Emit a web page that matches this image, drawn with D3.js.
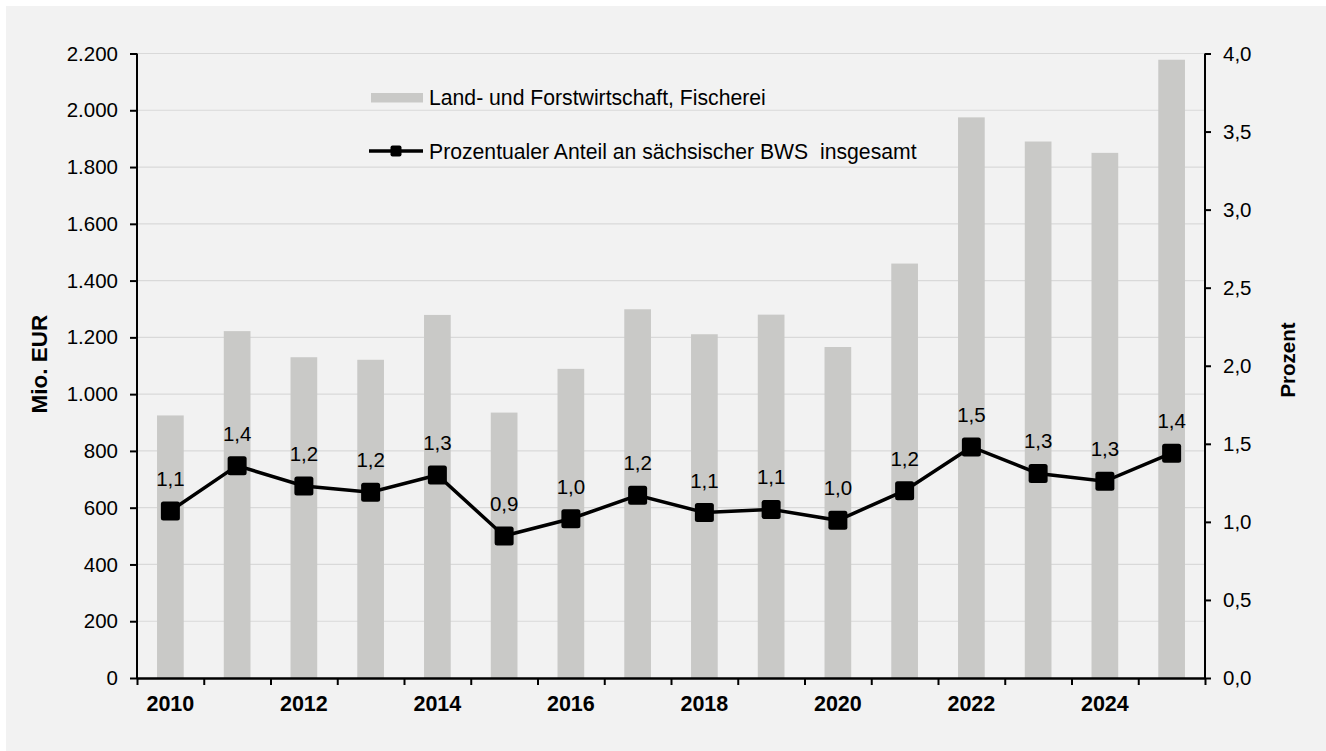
<!DOCTYPE html>
<html>
<head>
<meta charset="utf-8">
<script src="https://cdn.jsdelivr.net/npm/d3@7"></script>
<style>
  html, body { margin: 0; padding: 0; background: #ffffff; }
  svg { display: block; font-family: "Liberation Sans", Arial, sans-serif; }
</style>
</head>
<body>
<script>
// Bruttowertschöpfung Land- und Forstwirtschaft, Fischerei (Sachsen)
const years = [2010, 2011, 2012, 2013, 2014, 2015, 2016, 2017, 2018, 2019, 2020, 2021, 2022, 2023, 2024, 2025];
const bwsMioEur = [925, 1222, 1130, 1121, 1279, 935, 1089, 1299, 1211, 1280, 1166, 1460, 1975, 1890, 1850, 2178];
const anteilProzent = [1.07, 1.36, 1.23, 1.19, 1.30, 0.91, 1.02, 1.17, 1.06, 1.08, 1.01, 1.20, 1.48, 1.31, 1.26, 1.44];
const leftTicks = [0, 200, 400, 600, 800, 1000, 1200, 1400, 1600, 1800, 2000, 2200];
const rightTicks = [0, 0.5, 1, 1.5, 2, 2.5, 3, 3.5, 4];
const barLabel = "Land- und Forstwirtschaft, Fischerei";
const lineLabel = "Prozentualer Anteil an sächsischer BWS  insgesamt";

const de = d3.formatLocale({ decimal: ",", thousands: ".", grouping: [3], currency: ["", " €"] });
const fmtInt = de.format(",.0f");
const fmt1 = de.format(".1f");

function main() {
  const width = 1326;
  const height = 751;
  const marginTop = 53.5;
  const marginBottom = 73;
  const marginLeft = 137;
  const marginRight = 121;

  const data = years.map((y, i) => ({ year: y, bws: bwsMioEur[i], pct: anteilProzent[i] }));

  const x = d3.scaleBand()
    .domain(years)
    .range([marginLeft, width - marginRight])
    .paddingInner(0.6)
    .paddingOuter(0.3);

  // band boundaries for the x tick marks
  const xb = d3.scaleLinear()
    .domain([0, years.length])
    .range([marginLeft, width - marginRight]);

  const y = d3.scaleLinear()
    .domain([0, 2200])
    .range([height - marginBottom, marginTop]);

  const y2 = d3.scaleLinear()
    .domain([0, 4])
    .range([height - marginBottom, marginTop]);

  const svg = d3.create("svg")
    .attr("width", width)
    .attr("height", height);

  svg.append("rect")
    .attr("x", 6).attr("y", 6)
    .attr("width", width - 6).attr("height", height - 6)
    .attr("fill", "#f2f2f2");

  // gridlines
  svg.append("g")
    .attr("stroke", "#d9d9d9")
    .attr("stroke-width", 1.2)
    .selectAll("line")
    .data(leftTicks.filter(d => d > 0))
    .join("line")
    .attr("x1", marginLeft)
    .attr("x2", width - marginRight)
    .attr("y1", d => y(d))
    .attr("y2", d => y(d));

  // bars
  svg.append("g")
    .attr("fill", "#c9c9c7")
    .selectAll("rect")
    .data(data)
    .join("rect")
    .attr("x", d => x(d.year))
    .attr("y", d => y(d.bws))
    .attr("width", x.bandwidth())
    .attr("height", d => y(0) - y(d.bws));

  // left axis
  const gLeft = svg.append("g")
    .attr("transform", `translate(${marginLeft},0)`)
    .call(d3.axisLeft(y).tickValues(leftTicks).tickFormat(fmtInt).tickSize(7).tickPadding(12).tickSizeOuter(0));
  gLeft.select(".domain").attr("stroke-width", 2).attr("d", `M0,${y(0)}V${y(2200)}`);
  gLeft.selectAll(".tick line").attr("stroke-width", 2);
  gLeft.selectAll("text").attr("font-size", 20.5).attr("fill", "#000");

  // right axis
  const gRight = svg.append("g")
    .attr("transform", `translate(${width - marginRight},0)`)
    .call(d3.axisRight(y2).tickValues(rightTicks).tickFormat(fmt1).tickSize(6).tickPadding(12).tickSizeOuter(0));
  gRight.select(".domain").attr("stroke-width", 2).attr("d", `M0,${y2(0)}V${y2(4)}`);
  gRight.selectAll(".tick line").attr("stroke-width", 2);
  gRight.selectAll("text").attr("font-size", 20.5).attr("fill", "#000");

  // x axis: tick marks at band boundaries
  const gXb = svg.append("g")
    .attr("transform", `translate(0,${height - marginBottom})`)
    .call(d3.axisBottom(xb).ticks(years.length).tickFormat("").tickSize(7).tickSizeOuter(0));
  gXb.select(".domain").attr("stroke-width", 2.5);
  gXb.selectAll(".tick line").attr("stroke-width", 2);

  // x axis labels (every second year)
  const gX = svg.append("g")
    .attr("transform", `translate(0,${height - marginBottom})`)
    .call(d3.axisBottom(x).tickSize(0).tickFormat(d => d % 2 === 0 ? d : ""));
  gX.select(".domain").remove();
  gX.selectAll("text")
    .attr("y", 18)
    .attr("dy", "0.71em")
    .attr("font-size", 21.5)
    .attr("font-weight", "bold")
    .attr("fill", "#000");

  // line
  const cx = d => x(d.year) + x.bandwidth() / 2;
  const line = d3.line()
    .x(cx)
    .y(d => y2(d.pct));
  svg.append("path")
    .attr("fill", "none")
    .attr("stroke", "#000")
    .attr("stroke-width", 3.5)
    .attr("d", line(data));

  const ms = 19;
  svg.append("g")
    .attr("fill", "#000")
    .selectAll("rect")
    .data(data)
    .join("rect")
    .attr("x", d => cx(d) - ms / 2)
    .attr("y", d => y2(d.pct) - ms / 2)
    .attr("width", ms)
    .attr("height", ms)
    .attr("rx", 2.5);

  // data labels
  svg.append("g")
    .attr("font-size", 20.5)
    .attr("text-anchor", "middle")
    .attr("fill", "#000")
    .selectAll("text")
    .data(data)
    .join("text")
    .attr("x", cx)
    .attr("y", d => y2(d.pct) - 25)
    .text(d => fmt1(d.pct));

  // axis titles
  svg.append("text")
    .attr("transform", "translate(47,364) rotate(-90)")
    .attr("text-anchor", "middle")
    .attr("font-size", 22.5)
    .attr("font-weight", "bold")
    .text("Mio. EUR");

  svg.append("text")
    .attr("transform", "translate(1295,360) rotate(-90)")
    .attr("text-anchor", "middle")
    .attr("font-size", 20.5)
    .attr("font-weight", "bold")
    .text("Prozent");

  // legend
  const legend = svg.append("g")
    .attr("font-size", 21.2)
    .attr("fill", "#000");
  legend.append("rect")
    .attr("x", 371).attr("y", 93)
    .attr("width", 52).attr("height", 9.5)
    .attr("fill", "#c9c9c7");
  legend.append("text")
    .attr("x", 429).attr("y", 105)
    .text(barLabel);

  legend.append("line")
    .attr("x1", 369).attr("x2", 423)
    .attr("y1", 151).attr("y2", 151)
    .attr("stroke", "#000")
    .attr("stroke-width", 3.5);
  legend.append("rect")
    .attr("x", 396 - 5.5).attr("y", 151 - 5.5)
    .attr("width", 11).attr("height", 11)
    .attr("rx", 2)
    .attr("fill", "#000");
  // keep the double space of the original label
  legend.append("text")
    .attr("x", 429).attr("y", 159)
    .text(lineLabel.replace(/  /g, " \u00a0"));

  document.body.appendChild(svg.node());
}

main();
</script>
</body>
</html>
